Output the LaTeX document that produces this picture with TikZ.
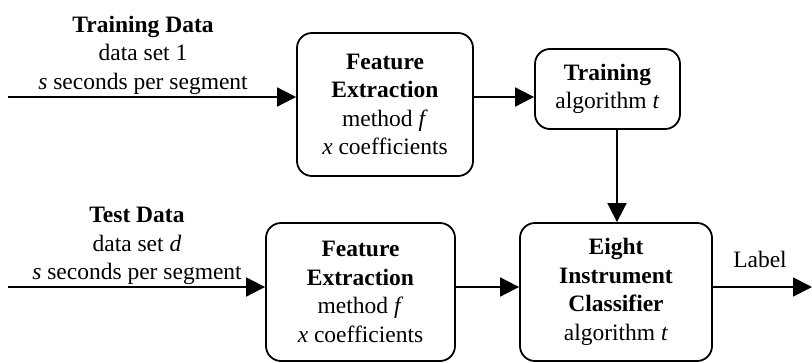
\documentclass[tikz,border=0pt]{standalone}
\usepackage{fontspec}
\setmainfont{Liberation Serif}
\usetikzlibrary{arrows.meta}
\begin{document}
\begin{tikzpicture}[x=1pt,y=-1pt,
  every node/.style={font=\fontsize{23.5}{28.5}\selectfont, inner sep=0pt},
  blk/.style={draw, line width=1.8pt, rounded corners=15pt, align=center},
  txt/.style={align=center},
  arr/.style={line width=1.8pt, -{Triangle[length=19pt,width=19pt]}}]
\useasboundingbox (0,0) rectangle (812,362);

% processing blocks
\node[blk, minimum width=176pt, minimum height=143pt] (fe1) at (385,104.5)
  {\textbf{Feature}\\\textbf{Extraction}\\method \textit{f}\\\textit{x} coefficients};
\node[blk, minimum width=145pt, minimum height=80pt] (train) at (607.5,89)
  {\textbf{Training}\\algorithm \textit{t}};
\node[blk, minimum width=189pt, minimum height=138pt] (fe2) at (360.5,292)
  {\textbf{Feature}\\\textbf{Extraction}\\method \textit{f}\\\textit{x} coefficients};
\node[blk, minimum width=192pt, minimum height=138pt] (cls) at (616,292)
  {\textbf{Eight}\\\textbf{Instrument}\\\textbf{Classifier}\\algorithm \textit{t}};

% input and output labels
\node[txt] (trdata) at (143,55)
  {\textbf{Training Data}\\data set 1\\\textit{s} seconds per segment};
\node[txt] (tsdata) at (137,246)
  {\textbf{Test Data}\\data set \textit{d}\\\textit{s} seconds per segment};
\node (lbl) at (760,259) {Label};

% free ends of the connectors
\coordinate (in1) at (8,97);
\coordinate (in2) at (8,287);
\coordinate (out) at (812,287);
\coordinate (vx) at (617,0);

% connectors
\draw[arr] (in1) -- (in1 -| fe1.west);
\draw[arr] (fe1.east |- in1) -- (train.west |- in1);
\draw[arr] (vx |- train.south) -- (vx |- cls.north);
\draw[arr] (in2) -- (in2 -| fe2.west);
\draw[arr] (fe2.east |- in2) -- (cls.west |- in2);
\draw[arr] (cls.east |- out) -- (out);
\end{tikzpicture}
\end{document}
